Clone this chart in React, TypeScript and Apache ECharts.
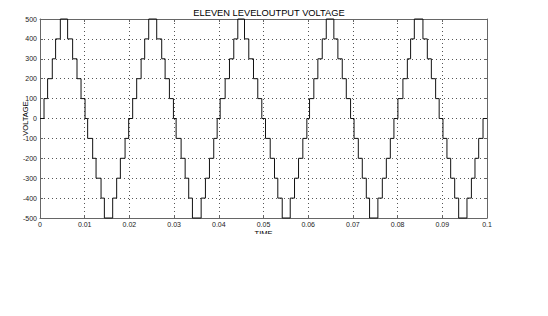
import React, { useEffect, useRef } from "react";
import * as echarts from "echarts";

const titleText = "ELEVEN LEVELOUTPUT VOLTAGE";
const xName = "TIME";
const yName = "VOLTAGE";

// switching instants (s)
const times = [
  0,
  0.0009, 0.0017, 0.00275, 0.00349, 0.00455, 0.00618, 0.0073, 0.00828, 0.00918, 0.01008,
  0.01066, 0.01178, 0.01254, 0.01366, 0.0144, 0.01626, 0.01715, 0.01798, 0.01903, 0.01984,
  0.02073, 0.02163, 0.02262, 0.02342, 0.02432, 0.02611, 0.02723, 0.02799, 0.02895, 0.02985,
  0.03045, 0.03157, 0.03247, 0.03327, 0.0341, 0.03605, 0.03701, 0.03791, 0.03887, 0.03963,
  0.0403, 0.04142, 0.04239, 0.04335, 0.04425, 0.04575, 0.04671, 0.04776, 0.04872, 0.04962,
  0.05045, 0.0515, 0.05246, 0.0532, 0.05419, 0.05598, 0.05694, 0.05784, 0.0588, 0.0597,
  0.0603, 0.06126, 0.06216, 0.06314, 0.06404, 0.06574, 0.06664, 0.06762, 0.06852, 0.06948,
  0.07026, 0.07121, 0.0721, 0.073, 0.07373, 0.07559, 0.07658, 0.07748, 0.07837, 0.07918,
  0.08007, 0.08119, 0.08218, 0.08291, 0.08374, 0.08567, 0.08665, 0.08755, 0.08851, 0.0893,
  0.09015, 0.09104, 0.09187, 0.09277, 0.09366, 0.09552, 0.09651, 0.09731, 0.09814, 0.09911,
  0.1,
];

// voltage level reached at each instant (V)
const levels = [
  0,
  100, 200, 300, 400, 500, 400, 300, 200, 100, 0,
  -100, -200, -300, -400, -500, -400, -300, -200, -100, 0,
  100, 200, 300, 400, 500, 400, 300, 200, 100, 0,
  -100, -200, -300, -400, -500, -400, -300, -200, -100, 0,
  100, 200, 300, 400, 500, 400, 300, 200, 100, 0,
  -100, -200, -300, -400, -500, -400, -300, -200, -100, 0,
  100, 200, 300, 400, 500, 400, 300, 200, 100, 0,
  -100, -200, -300, -400, -500, -400, -300, -200, -100, 0,
  100, 200, 300, 400, 500, 400, 300, 200, 100, 0,
  -100, -200, -300, -400, -500, -400, -300, -200, -100, 0,
  0,
];

const xMin = 0;
const xMax = 0.1;
const xStep = 0.01;
const yMin = -500;
const yMax = 500;
const yStep = 100;

export default function App() {
  const ref = useRef<HTMLDivElement>(null);
  useEffect(() => {
    if (!ref.current) return;
    const chart = echarts.init(ref.current, undefined, { renderer: "svg" });
    const data = times.map((t, i) => [t, levels[i]]);
    const font = "Arial, 'Liberation Sans', sans-serif";
    const frame = "#666";
    const gridLine = { color: "#555", type: [1, 3], width: 1 };
    chart.setOption({
      animation: false,
      backgroundColor: "#fff",
      title: {
        text: titleText,
        left: 264,
        top: 3,
        textAlign: "center",
        textStyle: { fontSize: 9.3, fontWeight: "normal", color: "#000", fontFamily: font },
      },
      grid: { left: 40, right: 61, top: 19, bottom: 98, containLabel: false, show: false },
      xAxis: [
        {
          type: "value",
          min: xMin,
          max: xMax,
          interval: xStep,
          name: xName,
          nameLocation: "middle",
          nameGap: 11,
          nameMoveOverlap: false,
          nameTextStyle: { fontSize: 7.5, color: "#000", fontFamily: font },
          axisLine: { show: true, onZero: false, lineStyle: { color: frame, width: 1 } },
          axisTick: { show: true, inside: true, length: 3, lineStyle: { color: frame } },
          axisLabel: {
            fontSize: 7,
            color: "#222",
            fontFamily: font,
            margin: 3,
            formatter: (v: number) => String(Number(v.toFixed(2))),
          },
          splitLine: { show: true, lineStyle: gridLine },
        },
        {
          type: "value",
          position: "top",
          min: xMin,
          max: xMax,
          interval: xStep,
          axisLine: { show: true, onZero: false, lineStyle: { color: frame, width: 1 } },
          axisTick: { show: true, inside: true, length: 3, lineStyle: { color: frame } },
          axisLabel: { show: false },
          splitLine: { show: false },
        },
      ],
      yAxis: [
        {
          type: "value",
          min: yMin,
          max: yMax,
          interval: yStep,
          name: yName,
          nameLocation: "middle",
          nameGap: 11,
          nameRotate: 90,
          nameMoveOverlap: false,
          nameTextStyle: { fontSize: 7.5, color: "#000", fontFamily: font },
          axisLine: { show: true, onZero: false, lineStyle: { color: frame, width: 1 } },
          axisTick: { show: true, inside: true, length: 3, lineStyle: { color: frame } },
          axisLabel: { fontSize: 7, color: "#222", fontFamily: font, margin: 3 },
          splitLine: { show: true, lineStyle: gridLine },
        },
        {
          type: "value",
          position: "right",
          min: yMin,
          max: yMax,
          interval: yStep,
          axisLine: { show: true, onZero: false, lineStyle: { color: frame, width: 1 } },
          axisTick: { show: true, inside: true, length: 3, lineStyle: { color: frame } },
          axisLabel: { show: false },
          splitLine: { show: false },
        },
      ],
      graphic: [
        {
          type: "rect",
          z: 100,
          shape: { x: 220, y: 234, width: 90, height: 20 },
          style: { fill: "#fff" },
        },
      ],
      series: [
        {
          type: "line",
          data,
          step: "end",
          showSymbol: false,
          symbol: "none",
          clip: false,
          lineStyle: { color: "#111", width: 1 },
        },
      ],
    });
    return () => chart.dispose();
  }, []);
  return (
    <div
      ref={ref}
      style={{ position: "fixed", left: 0, top: 0, width: 548, height: 316, background: "#fff" }}
    />
  );
}
